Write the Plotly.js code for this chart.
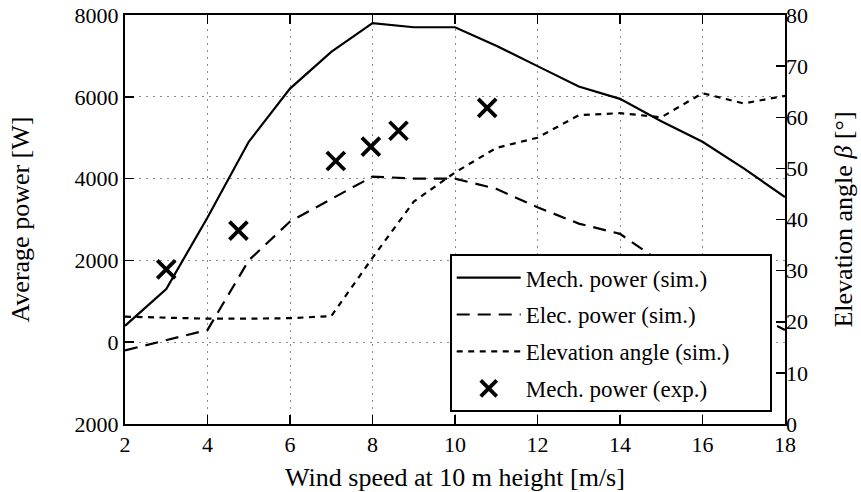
<!DOCTYPE html>
<html>
<head>
<meta charset="utf-8">
<script src="https://cdn.plot.ly/plotly-3.0.1.min.js"></script>
<style>html,body{margin:0;padding:0;background:#fff}#chart{width:861px;height:492px}</style>
</head>
<body>
<div id="chart"></div>
<script>
const windSpeed = [2,3,4,5,6,7,8,9,10,11,12,13,14,15,16,17,18];
const mechPowerSim = [400,1300,3050,4900,6200,7100,7800,7700,7700,7250,6750,6250,5950,5400,4900,4250,3550];
const elecPowerSim = [-200,50,300,2000,2950,3500,4050,4000,4000,3750,3300,2900,2650,1950,1350,800,300];
const elevationSim = [21,20.8,20.6,20.6,20.7,21.1,32.5,43.5,49.2,54,56,60.4,60.8,60,64.7,62.7,64.2];
const expWind = [3.0,4.75,7.11,7.96,8.63,10.78];
const expMechPower = [1780,2730,4430,4780,5170,5730];
const leftTickVals = [-2000,0,2000,4000,6000,8000];
const leftTickText = ['2000','0','2000','4000','6000','8000'];
const rightTickVals = [0,10,20,30,40,50,60,70,80];
const xTickVals = [2,4,6,8,10,12,14,16,18];
const seriesNames = ['Mech. power (sim.)', 'Elec. power (sim.)', 'Elevation angle (sim.)', 'Mech. power (exp.)'];

const FONT = '"Liberation Serif", "Times New Roman", serif';
const TICK = 22, TITLE = 26, LEG = 23;
const PAD = '\u00a0\u00a0\u00a0\u00a0\u00a0\u00a0';

const traces = [
  {x: windSpeed, y: mechPowerSim, name: seriesNames[0], mode: 'lines', legendgroup: 'a',
   line: {color: '#000', width: 2.2}},
  {x: windSpeed, y: elecPowerSim, name: seriesNames[1], mode: 'lines', legendgroup: 'b',
   line: {color: '#000', width: 2.2, dash: '13px,8px'}},
  {x: windSpeed, y: elevationSim, name: seriesNames[2] + PAD, mode: 'lines', yaxis: 'y2', legendgroup: 'c',
   line: {color: '#000', width: 2.2, dash: '6px,5.5px'}},
  {x: expWind, y: expMechPower, name: seriesNames[3], mode: 'markers', legendgroup: 'd',
   marker: {symbol: 'x-thin', size: 18, line: {color: '#000', width: 3.8}, color: '#000'}}
];

const gridStyle = {showgrid: true, gridcolor: '#8c8c8c', griddash: '2px,5px', gridwidth: 1};

const layout = {
  width: 861, height: 492,
  margin: {l: 125, r: 76, t: 15, b: 68},
  paper_bgcolor: '#fff', plot_bgcolor: '#fff',
  font: {family: FONT, size: TICK, color: '#000'},
  showlegend: true,
  legend: {x: 0.492, y: 0.029, xanchor: 'left', yanchor: 'bottom',
    bgcolor: '#fff', bordercolor: '#000', borderwidth: 2,
    font: {family: FONT, size: LEG}, tracegroupgap: 4, itemwidth: 64},
  xaxis: Object.assign({range: [2, 18], tickvals: xTickVals, ticks: 'inside', ticklen: 9, tickwidth: 1.5,
    tickcolor: '#000', showline: true, linecolor: '#000', linewidth: 2, mirror: 'ticks', zeroline: false,
    tickfont: {family: FONT, size: TICK},
    title: {text: 'Wind speed at 10 m height [m/s]', font: {family: FONT, size: TITLE}, standoff: 12}}, gridStyle),
  yaxis: Object.assign({range: [-2000, 8000], tickvals: leftTickVals, ticktext: leftTickText, ticks: 'inside',
    ticklen: 9, tickwidth: 1.5, tickcolor: '#000', showline: true, linecolor: '#000', linewidth: 2,
    mirror: true, zeroline: false,
    tickfont: {family: FONT, size: TICK},
    title: {text: 'Average power [W]', font: {family: FONT, size: TITLE}, standoff: 37}}, gridStyle),
  yaxis2: {range: [0, 80], tickvals: rightTickVals, overlaying: 'y', side: 'right', ticks: 'inside',
    ticklen: 9, tickwidth: 1.5, tickcolor: '#000', showline: false, showgrid: false, zeroline: false,
    tickfont: {family: FONT, size: TICK},
    title: {text: 'Elevation angle <i>β</i> [°]', font: {family: FONT, size: TITLE}, standoff: 26}}
};

Plotly.newPlot('chart', traces, layout, {displayModeBar: false, staticPlot: true});
</script>
</body>
</html>
